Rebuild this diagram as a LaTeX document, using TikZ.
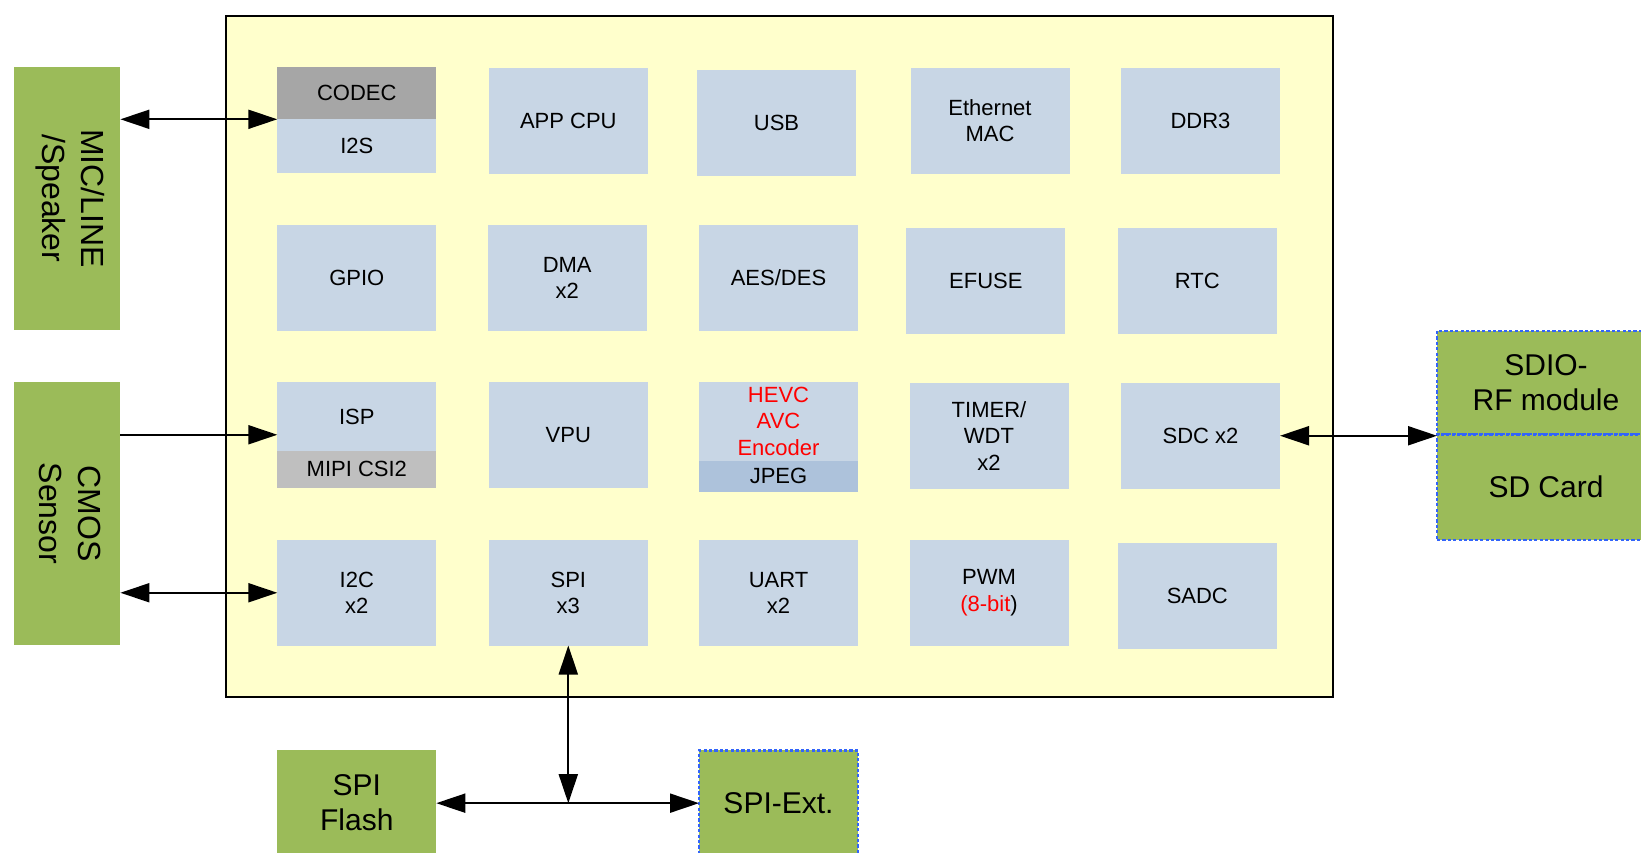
\documentclass[tikz,border=0pt]{standalone}
\usepackage{fontspec}
\setmainfont{Liberation Sans}
\usetikzlibrary{arrows.meta,calc}
\definecolor{socyellow}{HTML}{FFFFCC}
\definecolor{bblue}{RGB}{200,214,229}
\definecolor{codecgray}{HTML}{A6A6A6}
\definecolor{mipigray}{HTML}{BFBFBF}
\definecolor{jpegblue}{RGB}{173,194,219}
\definecolor{extgreen}{HTML}{9BBB59}
\definecolor{dashblue}{RGB}{50,100,250}
\definecolor{hotred}{HTML}{FF0000}
\newcommand\blkfont{\fontsize{22}{26.5}\selectfont}
\newcommand\grnfont{\fontsize{30}{35}\selectfont}
\newcommand\vertfont{\fontsize{32}{39}\selectfont}
\begin{document}
\begin{tikzpicture}[x=1pt,y=-1pt,
  blk/.style={fill=bblue, minimum width=159pt, minimum height=105.5pt, inner sep=0pt, outer sep=0pt, align=center, font=\blkfont, anchor=north west},
  txt/.style={inner sep=0pt, outer sep=0pt, align=center, font=\blkfont},
  ext/.style={fill=extgreen, inner sep=0pt, outer sep=0pt, align=center, font=\grnfont, anchor=north west},
  dashedge/.style={draw=dashblue, line width=2.4pt, dash pattern=on 3.2pt off 2.2pt},
  biarrow/.style={line width=2pt, {Triangle[length=29pt,width=19pt]}-{Triangle[length=29pt,width=19pt]}},
  uniarrow/.style={line width=2pt, -{Triangle[length=29pt,width=19pt]}},
]
\useasboundingbox (0,0) rectangle (1641,852);
\fill[white] (0,0) rectangle (1641,852);

% SoC frame
\node[draw=black, line width=2.2pt, fill=socyellow, minimum width=1107pt, minimum height=681pt, inner sep=0pt, anchor=north west] (soc) at (225,14.7) {};

% Row 1
\node[blk, fill=codecgray, minimum height=52.3pt] (codec) at (277.3,67) {CODEC};
\node[blk, minimum height=53.4pt] (i2s) at (277.3,119.3) {I2S};
\node[blk] (appcpu) at (488.8,68) {APP CPU};
\node[blk] (usb) at (697,70) {USB};
\node[blk] (eth) at (910.5,68) {Ethernet\\MAC};
\node[blk] (ddr) at (1121,68) {DDR3};

% Row 2
\node[blk] (gpio) at (277.3,225) {GPIO};
\node[blk] (dma) at (487.7,225) {DMA\\x2};
\node[blk] (aes) at (699,225) {AES/DES};
\node[blk] (efuse) at (906.4,228) {EFUSE};
\node[blk] (rtc) at (1117.8,228) {RTC};

% Row 3
\node[blk] (isp) at (277.3,382) {};
\node[blk, fill=mipigray, minimum height=36.7pt] (mipi) at (277.3,451) {MIPI CSI2};
\node[txt] (isplbl) at ($(isp.north)!0.5!(mipi.north)$) {ISP};
\node[blk] (vpu) at (488.8,382) {VPU};
\node[blk, minimum height=110pt] (hevc) at (699,382) {};
\node[blk, fill=jpegblue, minimum height=31.5pt] (jpeg) at (699,460.5) {JPEG};
\node[txt, text=hotred] (hevclbl) at ($(hevc.north)!0.5!(jpeg.north)$) {HEVC\\AVC\\Encoder};
\node[blk] (timer) at (909.5,383) {TIMER/\\WDT\\x2};
\node[blk] (sdc) at (1121,383) {SDC x2};

% Row 4
\node[blk] (i2c) at (277.3,540) {I2C\\x2};
\node[blk] (spi) at (488.8,540) {SPI\\x3};
\node[blk] (uart) at (699,540) {UART\\x2};
\node[blk] (pwm) at (909.5,540) {PWM\\\textcolor{hotred}{(8-bit})};
\node[blk] (sadc) at (1117.8,543) {SADC};

% External devices
\node[ext, minimum width=106.8pt, minimum height=262.7pt] (mic) at (13.6,67) {};
\node[inner sep=0pt, align=center, font=\vertfont, rotate=-90] (miclbl) at ($(mic.center)+(3,0)$) {MIC/LINE\\/Speaker};
\node[ext, minimum width=106.8pt, minimum height=262.7pt] (cmos) at (13.6,382) {};
\node[inner sep=0pt, align=center, font=\vertfont, rotate=-90] (cmoslbl) at ($(cmos.center)+(3,0)$) {CMOS\\Sensor};

\node[ext, dashedge, minimum width=218pt, minimum height=103.8pt] (sdio) at (1437,330.7) {SDIO-\\RF module};
\node[ext, dashedge, minimum width=218pt, minimum height=105.5pt] (sd) at (1437,434.5) {SD Card};

\node[ext, minimum width=159pt, minimum height=105.5pt] (flash) at (277.3,750.4) {SPI\\Flash};
\node[ext, dashedge, minimum width=159pt, minimum height=105.5pt] (spiext) at (699,750.4) {SPI-Ext.};

% Connectors
\draw[biarrow] (mic.east |- codec.south west) -- (codec.south west);
\draw[uniarrow] (cmos.east |- isp.west) -- (isp.west);
\draw[biarrow] (cmos.east |- i2c.west) -- (i2c.west);
\draw[biarrow] (sdc.east) -- (sdc.east -| sd.north west);
\coordinate (junc) at (spi.south |- flash.east);
\draw[biarrow] (spi.south) -- (junc);
\draw[biarrow] (flash.east) -- (spiext.west);
\end{tikzpicture}
\end{document}
